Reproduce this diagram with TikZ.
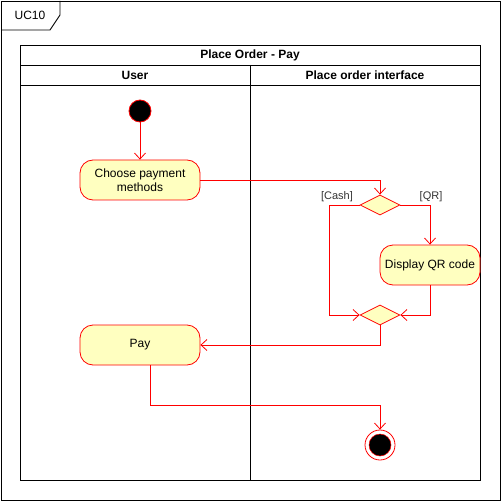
\documentclass[tikz,border=0pt]{standalone}
\usepackage{fontspec}
\setmainfont{Liberation Sans}
\usetikzlibrary{arrows.meta,shapes.geometric}
\definecolor{actfill}{HTML}{FFFFC0}
\definecolor{actred}{HTML}{FF0000}
\tikzset{
  every node/.style={font=\fontsize{12}{14}\selectfont},
  action/.style={draw=actred, fill=actfill, rounded corners=13pt, minimum width=120pt, minimum height=40pt, inner sep=2pt, align=center, line width=0.8pt},
  decision/.style={draw=actred, fill=actfill, diamond, minimum width=40pt, minimum height=20pt, inner sep=0pt, line width=0.8pt},
  flow/.style={draw=actred, line width=0.8pt, -{Straight Barb[length=6pt,width=11pt]}},
  lane/.style={draw=black, line width=0.9pt},
  guard/.style={font=\fontsize{11}{13}\selectfont, text=black!80},
}
\begin{document}
\begin{tikzpicture}[x=1pt,y=-1pt]
\useasboundingbox (0,0) rectangle (502,502);
% outer frame
\draw[lane] (1,1) rectangle (500,500);
\draw[lane] (1,30) -- (50,30) -- (60,15) -- (60,1);
\node (uc) at (30,15) {UC10};
% pool
\draw[lane] (20,45) rectangle (480,480);
\draw[lane] (20,65) -- (480,65);
\draw[lane] (20,85) -- (480,85);
\draw[lane] (250,65) -- (250,480);
\node[font=\bfseries\fontsize{12}{14}\selectfont] (title) at (250,55) {Place Order - Pay};
\node[font=\bfseries\fontsize{12}{14}\selectfont] (user) at (135,75) {User};
\node[font=\bfseries\fontsize{12}{14}\selectfont] (iface) at (365,75) {Place order interface};
% nodes
\node[circle, fill=black, draw=actred, minimum size=22pt, inner sep=0pt, line width=0.8pt] (start) at (140,111) {};
\node[action] (choose) at (140,180) {Choose payment\\methods};
\node[decision] (d1) at (380,205) {};
\node[action, minimum width=100pt] (qr) at (430,265) {Display QR code};
\node[decision] (m) at (380,315) {};
\node[action] (pay) at (140,345) {Pay};
\node[circle, fill=white, draw=actred, minimum size=30pt, inner sep=0pt, line width=0.8pt] (end) at (380,445) {};
\node[circle, fill=black, draw=actred, minimum size=22pt, inner sep=0pt, line width=0.5pt] (endin) at (380,445) {};
% guards
\node[guard] (gcash) at (337,197) {[Cash]};
\node[guard] (gqr) at (431,197) {[QR]};
% flows
\draw[flow] (start) -- (choose);
\draw[flow] (choose.east) -| (d1.north);
\draw[flow] (d1.west) -- ++(-30,0) |- (m.west);
\draw[flow] (d1.east) -| (qr.north);
\draw[flow] (qr.south) |- (m.east);
\draw[flow] (m.south) |- (pay.east);
\draw[flow] ([xshift=10pt]pay.south) -- ++(0,40) -| (end.north);
\end{tikzpicture}
\end{document}
